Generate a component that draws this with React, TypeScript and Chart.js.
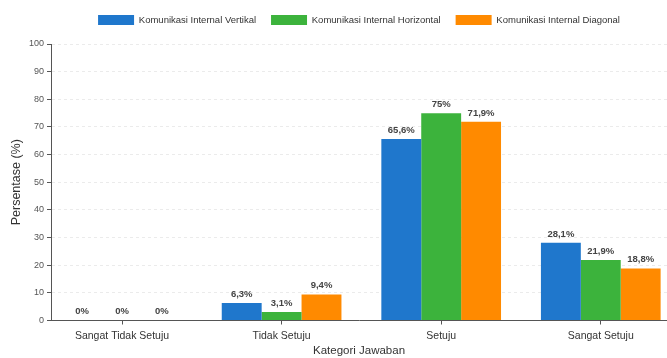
import React, { useEffect, useRef } from 'react';
import { Chart, registerables } from 'chart.js';

Chart.register(...registerables);

const categories = ['Sangat Tidak Setuju', 'Tidak Setuju', 'Setuju', 'Sangat Setuju'];
const seriesNames = [
  'Komunikasi Internal Vertikal',
  'Komunikasi Internal Horizontal',
  'Komunikasi Internal Diagonal',
];
const vertikal = [0, 6.3, 65.6, 28.1];
const horizontal = [0, 3.1, 75, 21.9];
const diagonal = [0, 9.4, 71.9, 18.8];
const seriesColors = ['#1f77cc', '#3cb33c', '#ff8a00'];
const yMin = 0;
const yMax = 100;
const yStep = 10;

const FONT = "'Liberation Sans', Arial, Helvetica, sans-serif";

const fmt = (v: number) => String(v).replace('.', ',') + '%';

const valueLabels = {
  id: 'valueLabels',
  afterDatasetsDraw(chart: any) {
    const ctx = chart.ctx;
    ctx.save();
    ctx.font = `bold 9.5px ${FONT}`;
    ctx.fillStyle = '#444';
    ctx.textAlign = 'center';
    ctx.textBaseline = 'bottom';
    chart.data.datasets.forEach((ds: any, di: number) => {
      const meta = chart.getDatasetMeta(di);
      meta.data.forEach((el: any, i: number) => {
        const v = ds.data[i].y;
        ctx.fillText(fmt(v), el.x, el.y - 4);
      });
    });
    ctx.restore();
  },
};

const legendHeight = {
  id: 'legendHeight',
  beforeInit(chart: any) {
    const legend = chart.legend;
    if (!legend) return;
    const origFit = legend.fit;
    legend.fit = function () {
      origFit.call(this);
      this.height = 44;
    };
  },
};

export default function App() {
  const ref = useRef<HTMLCanvasElement>(null);
  useEffect(() => {
    if (!ref.current) return;
    const series = [vertikal, horizontal, diagonal];
    const chart = new Chart(ref.current, {
      type: 'bar',
      data: {
        datasets: series.map((arr, si) => ({
          label: seriesNames[si],
          data: arr.map((v, i) => ({ x: i, y: v })),
          backgroundColor: seriesColors[si],
          borderWidth: 0,
          categoryPercentage: 0.75,
          barPercentage: 1,
        })),
      },
      options: {
        responsive: false,
        animation: false,
        devicePixelRatio: 1,
        layout: { padding: { top: 0, right: 0, bottom: 0, left: 0 } },
        font: { family: FONT },
        plugins: {
          legend: {
            position: 'top',
            fullSize: false,
            labels: {
              boxWidth: 36,
              boxHeight: 10,
              padding: 15,
              color: '#333',
              font: { size: 9.5, family: FONT },
            },
          },
          tooltip: { enabled: false },
        },
        scales: {
          x: {
            type: 'linear',
            min: -0.445,
            max: 3.415,
            offset: false,
            afterBuildTicks: (scale: any) => {
              scale.ticks = scale.ticks.filter((t: any) => Number.isInteger(t.value) && t.value >= 0 && t.value < categories.length);
            },
            afterFit: (scale: any) => {
              scale.height = 37.5;
            },
            ticks: {
              stepSize: 1,
              autoSkip: false,
              maxRotation: 0,
              padding: 5,
              color: '#333',
              font: { size: 10.5, family: FONT },
              callback: (value: any) => categories[value as number] ?? '',
            },
            grid: {
              display: true,
              drawOnChartArea: false,
              drawTicks: true,
              tickLength: 4,
              tickColor: '#555',
              offset: false,
            },
            border: { color: '#555', width: 1 },
            title: {
              display: true,
              text: 'Kategori Jawaban',
              color: '#333',
              font: { size: 11.5, family: FONT },
              padding: { top: 0, bottom: 0 },
            },
          },
          y: {
            min: yMin,
            max: yMax,
            afterFit: (scale: any) => {
              scale.width = 51;
            },
            ticks: {
              stepSize: yStep,
              padding: 3,
              color: '#555',
              font: { size: 9, family: FONT },
            },
            grid: {
              color: '#ebebeb',
              tickColor: '#555',
              tickLength: 4,
              tickBorderDash: [],
            },
            border: { color: '#555', width: 1, dash: [3, 3] },
            title: {
              display: true,
              text: 'Persentase (%)',
              color: '#333',
              font: { size: 12.5, family: FONT },
              padding: { top: 9.5, bottom: 0 },
            },
          },
        },
      } as any,
      plugins: [valueLabels, legendHeight],
    });
    return () => chart.destroy();
  }, []);
  return (
    <div style={{ position: 'fixed', left: 0, top: 0, width: 667, height: 358, background: '#fff' }}>
      <canvas ref={ref} width={667} height={358} style={{ display: 'block' }} />
    </div>
  );
}
